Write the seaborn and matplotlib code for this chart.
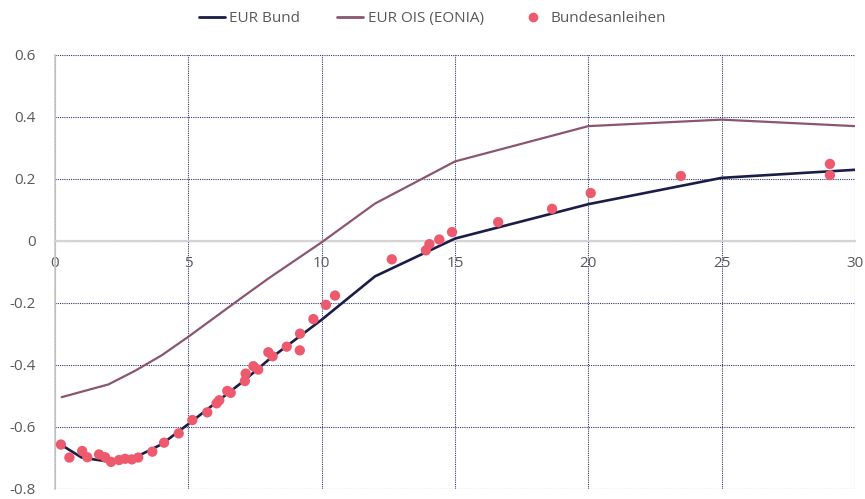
import numpy as np
import pandas as pd
import seaborn as sns
import matplotlib.pyplot as plt
from matplotlib.lines import Line2D

# Yield curves, maturity in years
bund_mat = [0.25, 1, 2, 3, 4, 5, 6, 7, 8, 9, 10, 12, 15, 20, 25, 30]
bund_yld = [-0.66, -0.70, -0.713, -0.70, -0.657, -0.592, -0.525, -0.458, -0.385,
            -0.32, -0.255, -0.115, 0.007, 0.118, 0.203, 0.229]

ois_mat = [0.25, 2, 3, 4, 5, 6, 7, 8, 10, 12, 15, 20, 25, 30]
ois_yld = [-0.505, -0.464, -0.42, -0.37, -0.31, -0.247, -0.184, -0.122,
           -0.005, 0.12, 0.256, 0.37, 0.391, 0.37]

# individual Bundesanleihen (residual maturity, yield)
bond_mat = [0.22, 0.54, 1.02, 1.21, 1.65, 1.88, 2.1, 2.4, 2.63, 2.88, 3.12, 3.65,
            4.09, 4.64, 5.15, 5.71, 6.06, 6.16, 6.46, 6.59, 7.12, 7.15, 7.44,
            7.62, 8.0, 8.16, 8.69, 9.18, 9.19, 9.69, 10.16, 10.5, 12.63, 13.91,
            14.04, 14.41, 14.89, 16.62, 18.64, 20.09, 23.47, 29.06, 29.06]
bond_yld = [-0.658, -0.70, -0.679, -0.699, -0.69, -0.699, -0.714, -0.708, -0.704,
            -0.706, -0.70, -0.681, -0.652, -0.622, -0.579, -0.554, -0.525, -0.515,
            -0.485, -0.491, -0.453, -0.429, -0.405, -0.416, -0.36, -0.373, -0.342,
            -0.354, -0.30, -0.253, -0.207, -0.177, -0.06, -0.031, -0.011, 0.004,
            0.028, 0.06, 0.103, 0.154, 0.209, 0.248, 0.212]

bund = pd.DataFrame({'mat': bund_mat, 'yld': bund_yld})
ois = pd.DataFrame({'mat': ois_mat, 'yld': ois_yld})
bonds = pd.DataFrame({'mat': bond_mat, 'yld': bond_yld})

sns.set_theme(style='white')
plt.rcParams['font.family'] = ['Open Sans', 'DejaVu Sans']

c_bund = '#1b1d48'
c_ois = '#8a5670'
c_dot = '#ee5a6d'
c_text = '#595959'
c_grid = '#34366f'

fig = plt.figure(figsize=(8.65, 4.99), dpi=100)
ax = fig.add_axes([0.0636, 0.021, 0.9248, 0.869])

sns.lineplot(data=bund, x='mat', y='yld', color=c_bund, lw=1.9, ax=ax, zorder=3)
sns.lineplot(data=ois, x='mat', y='yld', color=c_ois, lw=1.6, ax=ax, zorder=3)
sns.scatterplot(data=bonds, x='mat', y='yld', color=c_dot, s=55, edgecolor='none',
                ax=ax, zorder=4)

ax.set_xlim(0, 30)
ax.set_ylim(-0.8, 0.6)
ax.set_xticks(np.arange(0, 31, 5))
ax.set_yticks(np.arange(-0.8, 0.61, 0.2))
ax.set_yticklabels(['-0.8', '-0.6', '-0.4', '-0.2', '0', '0.2', '0.4', '0.6'])
ax.set_xlabel('')
ax.set_ylabel('')

ax.grid(True, color=c_grid, linestyle=(0, (1, 1)), linewidth=0.8)
ax.set_axisbelow(True)

for s in ['top', 'right']:
    ax.spines[s].set_visible(False)
ax.spines['bottom'].set_position(('data', 0))
ax.spines['bottom'].set_color('#d4d4d4')
ax.spines['bottom'].set_linewidth(1.6)
ax.spines['bottom'].set_zorder(2.5)
ax.spines['left'].set_color('#c8c8c8')
ax.spines['left'].set_linewidth(1.2)

ax.tick_params(axis='both', length=0, labelsize=11, colors=c_text)
ax.tick_params(axis='x', pad=11)
ax.tick_params(axis='y', pad=14)

handles = [Line2D([], [], color=c_bund, lw=2),
           Line2D([], [], color=c_ois, lw=2),
           Line2D([], [], color=c_dot, marker='o', ls='none', markersize=7,
                  markeredgecolor='none')]
fig.legend(handles, ['EUR Bund', 'EUR OIS (EONIA)', 'Bundesanleihen'],
           loc='center', bbox_to_anchor=(0.5, 0.963), ncol=3, frameon=False,
           fontsize=11, labelcolor=c_text, handlelength=1.7, handletextpad=0.3,
           columnspacing=2.4)

fig.savefig('out.png', dpi=100)
